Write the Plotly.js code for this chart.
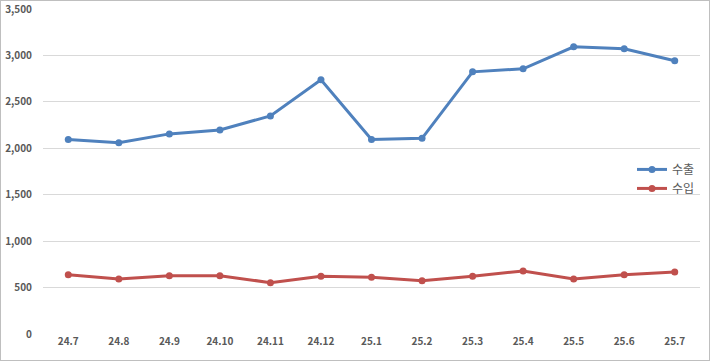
<!DOCTYPE html>
<html>
<head>
<meta charset="utf-8">
<script src="https://cdn.plot.ly/plotly-3.0.1.min.js"></script>
<style>
html,body{margin:0;padding:0;background:#fff;}
#frame{position:absolute;left:0;top:0;width:708px;height:359px;border:1px solid #bfbfbf;}
#chart{position:absolute;left:-1px;top:-1px;width:710px;height:361px;}
</style>
</head>
<body>
<div id="frame"><div id="chart"></div></div>
<script>
const categories = ["24.7","24.8","24.9","24.10","24.11","24.12","25.1","25.2","25.3","25.4","25.5","25.6","25.7"];
const exportValues = [2095, 2060, 2155, 2198, 2349, 2737, 2095, 2107, 2823, 2856, 3093, 3071, 2942];
const importValues = [639, 593, 628, 628, 553, 622, 611, 574, 622, 679, 593, 639, 668];
const yTickVals = [0, 500, 1000, 1500, 2000, 2500, 3000, 3500];
const yTickText = ["0", "500", "1,000", "1,500", "2,000", "2,500", "3,000", "3,500"];

const traces = [
  {x: categories, y: exportValues, name: "수출", type: "scatter", mode: "lines+markers",
   line: {color: "#4F81BD", width: 3}, marker: {color: "#4F81BD", size: 7}},
  {x: categories, y: importValues, name: "수입", type: "scatter", mode: "lines+markers",
   line: {color: "#C0504D", width: 3}, marker: {color: "#C0504D", size: 7}}
];

const layout = {
  width: 710, height: 361,
  margin: {l: 43, r: 10, t: 9, b: 27},
  paper_bgcolor: "rgba(0,0,0,0)", plot_bgcolor: "rgba(0,0,0,0)",
  font: {family: "'Noto Sans CJK KR', 'Noto Sans', sans-serif", color: "#595959"},
  showlegend: true,
  legend: {x: 1, y: 0.551, xanchor: "right", yanchor: "top",
           bgcolor: "rgba(0,0,0,0)", font: {size: 12, color: "#595959"}, itemwidth: 30, tracegroupgap: 0},
  xaxis: {type: "category", range: [-0.5, 12.5], automargin: false, showgrid: false, zeroline: false,
          showline: false, ticks: "",
          tickfont: {size: 10, weight: "bold", color: "#595959"}, fixedrange: true},
  yaxis: {range: [0, 3500], automargin: false, tickvals: yTickVals, ticktext: yTickText, showgrid: true,
          gridcolor: "#d9d9d9", gridwidth: 1, zeroline: false, showline: false, ticks: "",
          ticklabelstandoff: 10,
          tickfont: {size: 10, weight: "bold", color: "#595959"}, fixedrange: true}
};

Plotly.newPlot("chart", traces, layout, {displayModeBar: false, staticPlot: true});
</script>
</body>
</html>
